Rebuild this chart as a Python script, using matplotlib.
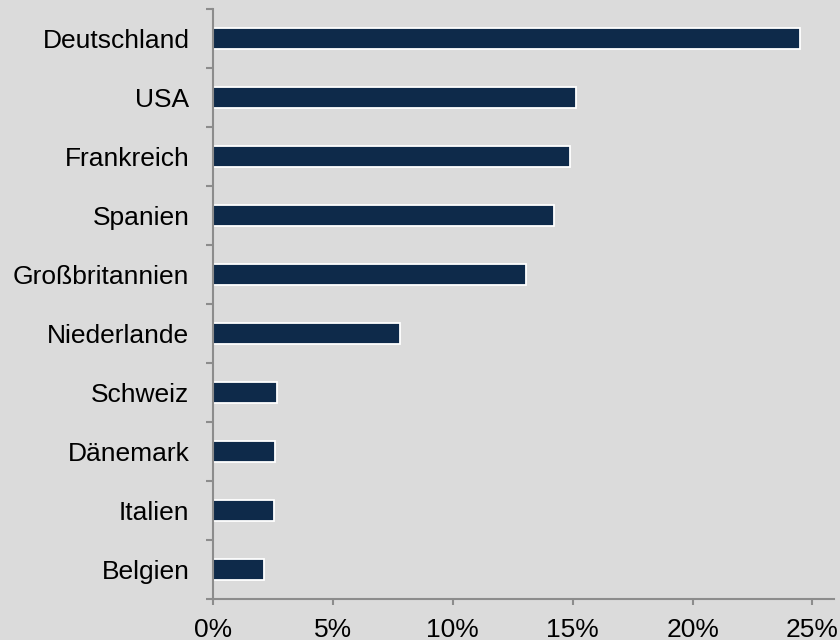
import numpy as np
import matplotlib.pyplot as plt
from matplotlib.ticker import FuncFormatter, FixedLocator

# shares in percent
countries = ['Deutschland', 'USA', 'Frankreich', 'Spanien', 'Großbritannien',
             'Niederlande', 'Schweiz', 'Dänemark', 'Italien', 'Belgien']
shares = [24.5, 15.15, 14.9, 14.2, 13.05, 7.8, 2.65, 2.57, 2.55, 2.13]
xticks = [0, 5, 10, 15, 20, 25]

bg = '#dbdbdb'
bar_color = '#0e2a4a'
axis_color = '#8c8c8c'

plt.rcParams['font.family'] = ['Liberation Sans', 'DejaVu Sans']

fig = plt.figure(figsize=(8.4, 6.4), dpi=100, facecolor=bg)
ax = fig.add_axes([0.2536, 0.0641, 0.7393, 0.9219])
ax.set_facecolor(bg)

y = np.arange(len(countries))[::-1]
ax.barh(y, shares, height=0.37, color=bar_color, edgecolor='white', linewidth=1.3)

ax.set_xlim(0, 25.9)
ax.set_ylim(-0.5, len(countries) - 0.5)

# labels centred on bars, tick marks between categories
ax.set_yticks(y)
ax.set_yticklabels(countries)
ax.yaxis.set_minor_locator(FixedLocator(np.arange(-0.5, len(countries), 1.0)))
ax.tick_params(axis='y', which='major', length=0, pad=17, labelsize=19)
ax.tick_params(axis='y', which='minor', length=5, width=1.5, color=axis_color)

ax.set_xticks(xticks)
ax.xaxis.set_major_formatter(FuncFormatter(lambda v, p: f'{v:.0f}%'))
ax.tick_params(axis='x', length=4.5, width=1.5, color=axis_color, pad=9, labelsize=19)

for side in ['top', 'right']:
    ax.spines[side].set_visible(False)
for side in ['left', 'bottom']:
    ax.spines[side].set_color(axis_color)
    ax.spines[side].set_linewidth(1.5)

fig.savefig('out.png', dpi=100, facecolor=bg)
